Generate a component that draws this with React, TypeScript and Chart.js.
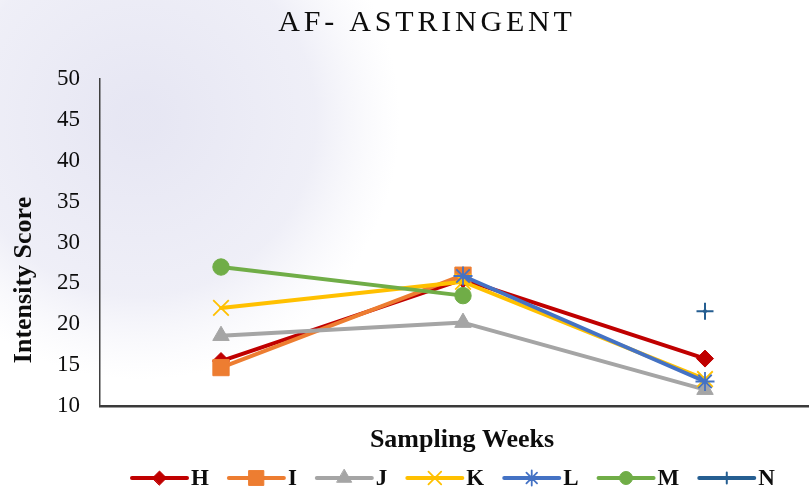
import React, { useEffect, useRef } from "react";
import { Chart, registerables } from "chart.js";
import { drawPoint } from "chart.js/helpers";

Chart.register(...registerables);

// ---------- data ----------
const weekPositions = [1, 2, 3];
const seriesNames = ["H", "I", "J", "K", "L", "M", "N"];
const seriesH = [15.5, 25.5, 15.8];
const seriesI = [14.7, 26.0, null];
const seriesJ = [18.6, 20.2, 12.0];
const seriesK = [22.0, 25.2, 13.3];
const seriesL = [null, 25.9, 13.0];
const seriesM = [27.0, 23.5, null];
const seriesN = [null, null, 21.6];
const yTickValues = [10, 15, 20, 25, 30, 35, 40, 45, 50];

const chartTitle = "AF- ASTRINGENT";
const xAxisTitle = "Sampling Weeks";
const yAxisTitle = "Intensity Score";

// ---------- styles ----------
const allSeries = [seriesH, seriesI, seriesJ, seriesK, seriesL, seriesM, seriesN];
const colors = ["#C00000", "#ED7D31", "#A5A5A5", "#FFC000", "#4472C4", "#70AD47", "#255E91"];
const pointStyles = ["rectRot", "rect", "triangle", "crossRot", "star", "circle", "cross"];
const pointRadii = [8.5, 11.5, 9.5, 11, 9.5, 8.2, 8.5];
const pointBorders = [1, 1, 1, 1.8, 1.8, 1, 2];
const legendRadii = [7, 10.5, 8.5, 9, 7.5, 6.5, 5.5];

const SERIF = "'Liberation Serif', 'Times New Roman', serif";
const TEXT = "#0d0d0d";

const decorPlugin = {
  id: "decor",
  beforeDraw(chart: any) {
    const ctx = chart.ctx;
    ctx.save();
    ctx.fillStyle = "#ffffff";
    ctx.fillRect(0, 0, chart.width, chart.height);
    const g = ctx.createRadialGradient(140, 120, 20, 140, 120, 260);
    g.addColorStop(0, "rgba(228,228,242,0.9)");
    g.addColorStop(0.65, "rgba(232,232,244,0.7)");
    g.addColorStop(1, "rgba(240,240,248,0)");
    ctx.fillStyle = g;
    ctx.fillRect(0, 0, 420, 400);
    ctx.restore();
  },
  afterDraw(chart: any) {
    const ctx = chart.ctx;
    ctx.save();
    ctx.fillStyle = TEXT;

    // title
    ctx.font = `30px ${SERIF}`;
    (ctx as any).letterSpacing = "3.8px";
    ctx.textAlign = "center";
    ctx.textBaseline = "alphabetic";
    ctx.fillText(chartTitle, 427, 31);
    (ctx as any).letterSpacing = "0px";

    // x axis title
    ctx.font = `bold 26px ${SERIF}`;
    ctx.fillText(xAxisTitle, 462, 447);

    // y axis title
    ctx.save();
    ctx.translate(24, 280);
    ctx.rotate(-Math.PI / 2);
    ctx.textBaseline = "middle";
    ctx.font = `bold 26px ${SERIF}`;
    ctx.fillText(yAxisTitle, 0, 0);
    ctx.restore();

    // legend
    let x = 132;
    const ly = 478;
    ctx.font = `bold 23px ${SERIF}`;
    ctx.textAlign = "left";
    seriesNames.forEach((name, i) => {
      ctx.strokeStyle = colors[i];
      ctx.lineWidth = 4;
      ctx.lineCap = "round";
      ctx.beginPath();
      ctx.moveTo(x, ly);
      ctx.lineTo(x + 55, ly);
      ctx.stroke();
      ctx.fillStyle = colors[i];
      ctx.strokeStyle = colors[i];
      ctx.lineWidth = pointBorders[i];
      drawPoint(ctx, { pointStyle: pointStyles[i], radius: legendRadii[i], rotation: 0, borderWidth: pointBorders[i] } as any, x + 27.5, ly);
      ctx.fillStyle = TEXT;
      ctx.textBaseline = "alphabetic";
      ctx.fillText(name, x + 59, 485);
      x = x + 59 + ctx.measureText(name).width + 20;
    });
    ctx.restore();
  },
};

export default function App() {
  const ref = useRef<HTMLCanvasElement | null>(null);
  useEffect(() => {
    if (!ref.current) return;
    const datasets = allSeries.map((vals, i) => ({
      label: seriesNames[i],
      data: vals.map((v, j) => ({ x: weekPositions[j], y: v })),
      borderColor: colors[i],
      backgroundColor: colors[i],
      borderWidth: 4,
      pointStyle: pointStyles[i],
      pointRadius: pointRadii[i],
      pointBorderWidth: pointBorders[i],
      pointBorderColor: colors[i],
      pointBackgroundColor: colors[i],
      borderCapStyle: "round",
      borderJoinStyle: "round",
      spanGaps: false,
      tension: 0,
      order: allSeries.length - i,
    }));
    const chart = new Chart(ref.current, {
      type: "line",
      data: { datasets } as any,
      plugins: [decorPlugin],
      options: {
        animation: false,
        responsive: false,
        devicePixelRatio: 1,
        layout: { autoPadding: false, padding: { top: 79, right: 0, bottom: 0, left: 0 } },
        plugins: { legend: { display: false }, title: { display: false }, tooltip: { enabled: false } },
        scales: {
          x: {
            type: "linear",
            min: 0.5,
            max: 0.5 + 709 / 242,
            ticks: { display: false },
            grid: { display: false, drawTicks: false },
            border: { display: true, color: "#3a3a3a", width: 2.5 },
            afterFit(scale: any) {
              scale.height = 88;
            },
          },
          y: {
            type: "linear",
            min: 10,
            max: 50,
            afterBuildTicks(scale: any) {
              scale.ticks = yTickValues.map((v) => ({ value: v }));
            },
            ticks: {
              padding: 20,
              color: "#0d0d0d",
              font: { family: "Liberation Serif", size: 23 },
            },
            grid: { display: false, drawTicks: false },
            border: { display: true, color: "#404040", width: 1.5 },
            afterFit(scale: any) {
              scale.width = 100;
            },
          },
        },
      } as any,
    });
    return () => chart.destroy();
  }, []);
  return (
    <div style={{ position: "absolute", left: 0, top: 0, width: 809, height: 494 }}>
      <canvas ref={ref} width={809} height={494} />
    </div>
  );
}
